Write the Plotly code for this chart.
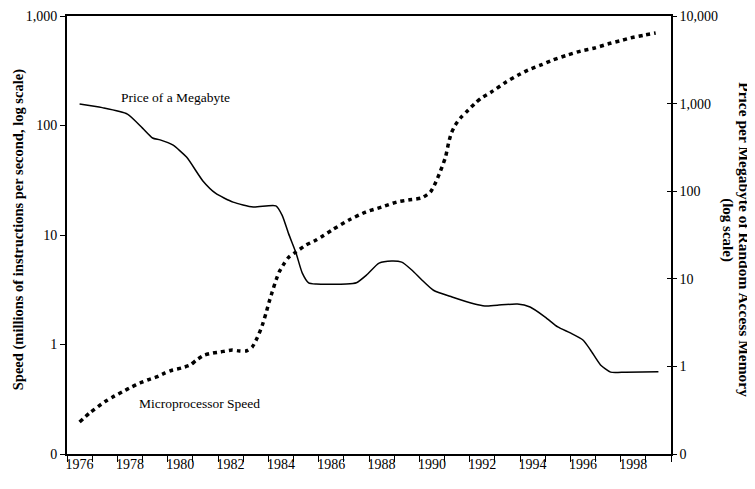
import plotly.graph_objects as go

# Price per megabyte of RAM (right axis, log scale)
price_years = [1976.0, 1976.9, 1977.9, 1978.5, 1978.9, 1979.2, 1979.7, 1980.25, 1980.9, 1981.4,
               1982.1, 1982.9, 1983.8, 1984.05, 1984.3, 1984.6, 1984.85, 1985.1, 1985.4, 1986.6,
               1987.0, 1987.4, 1987.9, 1988.4, 1988.8, 1989.2, 1989.6, 1990.06, 1990.8, 1991.7,
               1992.1, 1992.6, 1993.4, 1993.9, 1994.5, 1995.0, 1995.5, 1996.0, 1996.3, 1996.7,
               1997.1, 1997.7, 1999.0]
price_values = [990, 900, 760, 525, 405, 385, 337, 245, 131, 95,
                75, 66, 68, 53, 33, 19.7, 11.6, 9.0, 8.7, 8.7,
                9.0, 11, 15.1, 16, 15.5, 12.6, 9.7, 7.4, 6.2, 5.15,
                4.9, 5.0, 5.15, 4.76, 3.66, 2.82, 2.41, 2.0, 1.54, 1.04,
                0.86, 0.86, 0.87]

# Microprocessor speed, MIPS (left axis, log scale)
speed_years = [1976.0, 1976.4, 1977.0, 1977.3, 1977.7, 1978.07, 1978.4, 1978.7, 1979.06, 1979.4,
               1979.7, 1980.05, 1980.4, 1980.64, 1980.96, 1981.3, 1981.6, 1982.07, 1982.35, 1982.62,
               1982.86, 1983.06, 1983.26, 1983.41, 1983.53, 1983.65, 1983.81, 1983.93, 1984.13, 1984.32,
               1984.6, 1985.0, 1985.4, 1985.6, 1986.03, 1986.7, 1987.37, 1988.0, 1988.6, 1989.07,
               1989.59, 1989.94, 1990.14, 1990.34, 1990.54, 1990.66, 1990.77, 1990.93, 1991.13, 1991.37,
               1991.72, 1991.96, 1992.36, 1992.95, 1993.43, 1993.82, 1994.34, 1994.81, 1995.4, 1995.92,
               1996.47, 1996.99, 1997.46, 1997.9, 1998.45, 1998.89]
speed_values = [0.196, 0.237, 0.30, 0.33, 0.37, 0.41, 0.445, 0.474, 0.505, 0.55,
                0.585, 0.61, 0.65, 0.72, 0.80, 0.836, 0.855, 0.89, 0.873, 0.873,
                0.95, 1.15, 1.5, 1.94, 2.44, 3.0, 3.9, 4.6, 5.5, 6.3,
                7.0, 8.1, 9.0, 9.6, 11.1, 13.7, 16.2, 18.0, 20.0, 20.9,
                21.8, 24.7, 29.9, 38.4, 51.5, 69, 85, 101, 117, 133,
                160, 178, 202, 250, 289, 321, 357, 397, 441, 479,
                510, 555, 592, 631, 670, 700]

year_labels = [str(y) for y in range(1976, 1999, 2)]
year_label_vals = list(range(1976, 1999, 2))
year_tick_vals = [y + 0.5 for y in range(1975, 2000)]

left_vals = [0.1, 1, 10, 100, 1000]
left_text = ["0", "1", "10", "100", "1,000"]
right_vals = [0.1, 1, 10, 100, 1000, 10000]
right_text = ["0", "1", "10", "100", "1,000", "10,000"]

FONT = "Liberation Serif, Times New Roman, serif"

fig = go.Figure()
fig.add_trace(go.Scatter(x=speed_years, y=speed_values, mode="lines", yaxis="y",
                         line=dict(color="black", width=3.5, dash="4px,4px", shape="spline", smoothing=0.6),
                         showlegend=False, hoverinfo="skip"))
fig.add_trace(go.Scatter(x=price_years, y=price_values, mode="lines", yaxis="y2",
                         line=dict(color="black", width=1.5, shape="spline", smoothing=0.6),
                         showlegend=False, hoverinfo="skip"))
fig.add_trace(go.Scatter(x=[None], y=[None], yaxis="y3", showlegend=False, hoverinfo="skip"))

fig.update_layout(
    width=747, height=473,
    margin=dict(l=59, r=84, t=8, b=27, autoexpand=False),
    paper_bgcolor="white", plot_bgcolor="white",
    font=dict(family=FONT, size=14, color="black"),
    xaxis=dict(range=[1975.5, 1999.5], tickmode="array", tickvals=year_label_vals, ticktext=year_labels,
               ticks="", ticklen=0, showgrid=False, zeroline=False, automargin=False,
               ticklabelstandoff=-4,
               showline=True, linecolor="black", linewidth=1.5, mirror=True,
               minor=dict(tickmode="array", tickvals=year_tick_vals, ticks="outside", ticklen=6,
                          tickcolor="black", tickwidth=1.2, showgrid=False),
               tickfont=dict(family=FONT, size=14)),
    yaxis=dict(type="log", range=[-1, 3], tickmode="array", tickvals=left_vals, ticktext=left_text,
               ticks="outside", ticklen=5, tickcolor="black", tickwidth=1.2, automargin=False,
               showgrid=False, zeroline=False, showline=True, linecolor="black", linewidth=1.8,
               tickfont=dict(family=FONT, size=14)),
    yaxis2=dict(type="log", range=[-1, 4], overlaying="y", side="right", anchor="x",
                tickmode="array", tickvals=right_vals, ticktext=right_text, automargin=False,
                ticks="outside", ticklen=4, tickcolor="black", tickwidth=1.2,
                showgrid=False, zeroline=False, showline=True, linecolor="black", linewidth=1.5,
                tickfont=dict(family=FONT, size=14)),
    yaxis3=dict(type="log", range=[-1, 4], overlaying="y", side="right", anchor="x",
                tickmode="array", tickvals=right_vals, showticklabels=False, automargin=False,
                ticks="inside", ticklen=4, tickcolor="black", tickwidth=1.2,
                showgrid=False, zeroline=False, showline=False),
    annotations=[
        dict(text="Price of a Megabyte", xref="paper", yref="paper", x=0.179, y=0.815,
             showarrow=False, xanchor="center", yanchor="middle", font=dict(family=FONT, size=13.5)),
        dict(text="Microprocessor Speed", xref="paper", yref="paper", x=0.220, y=0.116,
             showarrow=False, xanchor="center", yanchor="middle", font=dict(family=FONT, size=13.5)),
        dict(text="<b>Speed (millions of instructions per second, log scale)</b>", xref="paper", yref="paper",
             x=-0.0811, y=0.511, textangle=-90, showarrow=False, xanchor="center", yanchor="middle",
             font=dict(family=FONT, size=14.5)),
        dict(text="<b>Price per Megabyte of Random Access Memory</b>", xref="paper", yref="paper",
             x=1.1205, y=0.4886, textangle=90, showarrow=False, xanchor="center", yanchor="middle",
             font=dict(family=FONT, size=15.5)),
        dict(text="<b>(log scale)</b>", xref="paper", yref="paper",
             x=1.0944, y=0.511, textangle=90, showarrow=False, xanchor="center", yanchor="middle",
             font=dict(family=FONT, size=15)),
    ],
)

fig.write_html("out.html")
